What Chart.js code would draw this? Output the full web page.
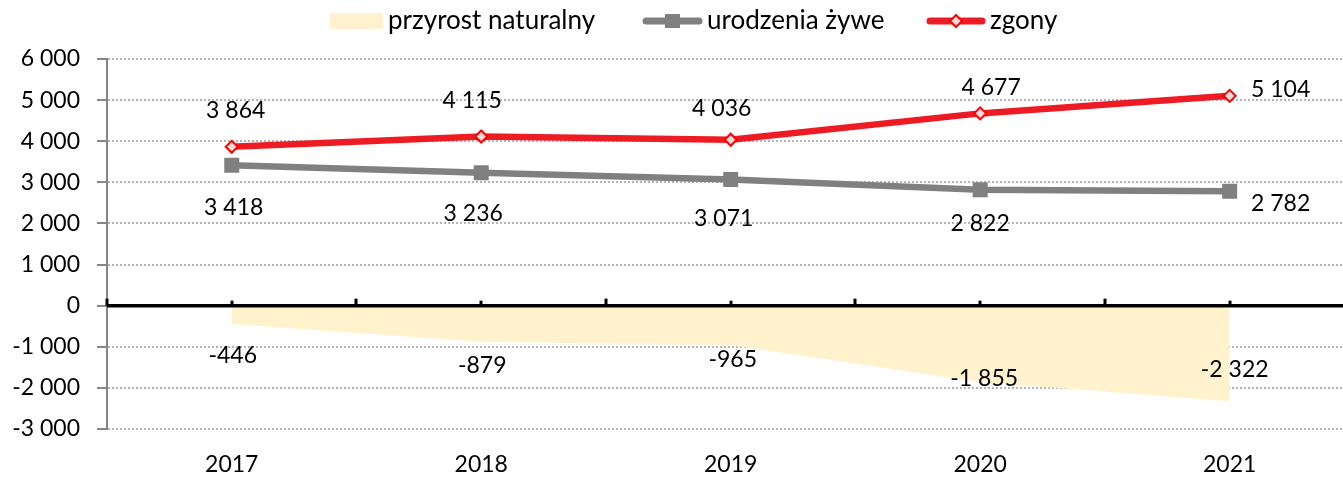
<!DOCTYPE html>
<html>
<head>
<meta charset="utf-8">
<script src="https://cdn.jsdelivr.net/npm/chart.js@4"></script>
<style>
html, body { margin: 0; padding: 0; background: #fff; overflow: hidden; }
#clip { position: relative; width: 1343px; height: 477px; overflow: hidden; }
#wrap { position: absolute; left: 0; top: 0; width: 1365px; height: 477px; }
</style>
</head>
<body>
<div id="clip"><div id="wrap"><canvas id="chart"></canvas></div></div>
<script>
// data
var years = ['2017', '2018', '2019', '2020', '2021'];
var przyrost = [-446, -879, -965, -1855, -2322];
var urodzenia = [3418, 3236, 3071, 2822, 2782];
var zgony = [3864, 4115, 4036, 4677, 5104];
var yMin = -3000, yMax = 6000, yStep = 1000;

// label nudges (px) relative to each point
var przyrostShift = [[1, 32], [1, 24], [2, 14], [4, -3], [5, -32]];
var urodzeniaShift = [[2, 42], [-8, 41], [-7, 39], [0, 34], [51, 12]];
var zgonyShift = [[4, -36], [-9, -36], [-9, -31], [11, -26], [51, -6]];

var FONT = '23px Lato';
var LEGEND_FONT = '26px Lato';
var AREA = '#FFF2CC', GRAY = '#808080', RED = '#ED1C24', RED_EDGE = '#FF0000', DIAMOND = '#ECDCDC';

function fmt(v) {
    var s = Math.abs(v).toString().replace(/\B(?=(\d{3})+(?!\d))/g, ' ');
    return (v < 0 ? '-' : '') + s;
}

function diamond(ctx, x, y, r) {
    ctx.beginPath();
    ctx.moveTo(x, y - r);
    ctx.lineTo(x + r, y);
    ctx.lineTo(x, y + r);
    ctx.lineTo(x - r, y);
    ctx.closePath();
    ctx.fillStyle = DIAMOND;
    ctx.fill();
    ctx.lineWidth = 2;
    ctx.strokeStyle = RED_EDGE;
    ctx.stroke();
}

// zero line with small ticks at category centres and edges
var zeroLine = {
    id: 'zeroLine',
    afterDatasetsDraw: function (chart) {
        var ctx = chart.ctx, xs = chart.scales.x, ys = chart.scales.y;
        var y0 = ys.getPixelForValue(0);
        ctx.save();
        ctx.strokeStyle = '#000';
        ctx.lineWidth = 3.5;
        ctx.beginPath();
        ctx.moveTo(chart.chartArea.left, y0);
        ctx.lineTo(chart.chartArea.right, y0);
        ctx.stroke();
        ctx.fillStyle = '#000';
        for (var i = -0.5; i <= years.length - 0.5; i += 0.5) {
            var x = xs.getPixelForValue(i);
            var len = (i % 1 === 0) ? 5 : 7;
            ctx.fillRect(Math.round(x) - 1.5, y0 - len, 3, len);
        }
        ctx.restore();
    }
};

// value labels
var valueLabels = {
    id: 'valueLabels',
    afterDraw: function (chart) {
        var ctx = chart.ctx;
        var shifts = [przyrostShift, urodzeniaShift, zgonyShift];
        ctx.save();
        ctx.font = FONT;
        ctx.fillStyle = '#000';
        ctx.textAlign = 'center';
        ctx.textBaseline = 'middle';
        chart.data.datasets.forEach(function (ds, d) {
            var meta = chart.getDatasetMeta(d);
            meta.data.forEach(function (pt, i) {
                ctx.fillText(fmt(ds.data[i]), pt.x + shifts[d][i][0], pt.y + shifts[d][i][1]);
            });
        });
        ctx.restore();
    }
};

// legend row drawn by hand (line + marker symbols like the original)
var legendRow = {
    id: 'legendRow',
    afterDraw: function (chart) {
        var ctx = chart.ctx;
        var items = [
            { text: 'przyrost naturalny', kind: 'area', x: 330, w: 53 },
            { text: 'urodzenia żywe', kind: 'gray', x: 643, w: 59 },
            { text: 'zgony', kind: 'red', x: 927, w: 58 }
        ];
        var gapText = 5, cy = 21;
        ctx.save();
        ctx.font = LEGEND_FONT;
        items.forEach(function (it) {
            var x = it.x;
            if (it.kind === 'area') {
                ctx.fillStyle = AREA;
                ctx.fillRect(x, cy - 8, it.w, 16);
            } else {
                ctx.strokeStyle = it.kind === 'gray' ? GRAY : RED;
                ctx.lineWidth = 7;
                ctx.lineCap = 'round';
                ctx.beginPath();
                ctx.moveTo(x + 3, cy);
                ctx.lineTo(x + it.w - 3, cy);
                ctx.stroke();
                if (it.kind === 'gray') {
                    ctx.fillStyle = GRAY;
                    ctx.fillRect(x + it.w / 2 - 7.5, cy - 7, 15, 14);
                } else {
                    diamond(ctx, x + it.w / 2, cy, 6);
                }
            }
            ctx.fillStyle = '#000';
            ctx.textAlign = 'left';
            ctx.textBaseline = 'middle';
            ctx.fillText(it.text, x + it.w + gapText, cy);
        });
        ctx.restore();
    }
};

Chart.defaults.font.family = 'Lato';
Chart.defaults.font.size = 23;
Chart.defaults.color = '#000';

new Chart(document.getElementById('chart'), {
    type: 'line',
    data: {
        labels: years,
        datasets: [{
            label: 'przyrost naturalny',
            data: przyrost,
            fill: 'origin',
            backgroundColor: AREA,
            borderWidth: 0,
            pointRadius: 0,
            order: 3
        }, {
            label: 'urodzenia żywe',
            data: urodzenia,
            borderColor: GRAY,
            borderWidth: 6.5,
            pointStyle: 'rect',
            pointRadius: 10.6,
            pointBackgroundColor: GRAY,
            pointBorderWidth: 0,
            order: 2
        }, {
            label: 'zgony',
            data: zgony,
            borderColor: RED,
            borderWidth: 6.5,
            pointStyle: 'rectRot',
            pointRadius: 6,
            pointBackgroundColor: DIAMOND,
            pointBorderColor: RED_EDGE,
            pointBorderWidth: 2,
            order: 1
        }]
    },
    options: {
        responsive: true,
        maintainAspectRatio: false,
        animation: false,
        events: [],
        layout: { padding: { top: 59, right: 2, bottom: 0, left: 0 } },
        plugins: {
            legend: { display: false },
            tooltip: { enabled: false }
        },
        scales: {
            x: {
                offset: true,
                grid: { display: false, drawTicks: false },
                border: { display: false },
                ticks: { padding: 22, maxRotation: 0 },
                afterFit: function (scale) { scale.height = 48; }
            },
            y: {
                min: yMin,
                max: yMax,
                ticks: {
                    stepSize: yStep,
                    padding: 17,
                    callback: function (v) { return fmt(v); }
                },
                grid: {
                    color: function (c) { return c.tick && c.tick.value === 0 ? 'rgba(0,0,0,0)' : '#b4b4b4'; },
                    lineWidth: 2,
                    tickLength: 10,
                    tickColor: '#868686',
                    tickWidth: 2,
                    tickBorderDash: []
                },
                border: { color: '#868686', width: 2, dash: [2, 2] },
                afterFit: function (scale) { scale.width = 107; }
            }
        }
    },
    plugins: [zeroLine, valueLabels, legendRow]
});
</script>
</body>
</html>
